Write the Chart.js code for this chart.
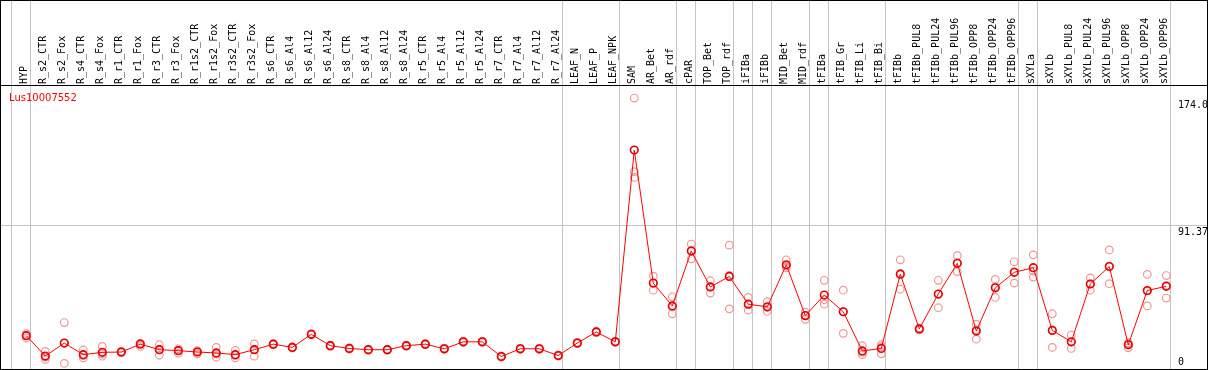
<!DOCTYPE html>
<html>
<head>
<meta charset="utf-8">
<script src="https://cdn.jsdelivr.net/npm/chart.js@4.4.1/dist/chart.umd.min.js"></script>
<style>
  body { margin: 0; background: #fff; }
  canvas { display: block; }
</style>
</head>
<body>
<canvas id="expr" width="1209" height="370"></canvas>
<script>
var geneName = "Lus10007552";

var samples = ["HYP", "R_s2_CTR", "R_s2_Fox", "R_s4_CTR", "R_s4_Fox", "R_r1_CTR", "R_r1_Fox",
  "R_r3_CTR", "R_r3_Fox", "R_r1s2_CTR", "R_r1s2_Fox", "R_r3s2_CTR", "R_r3s2_Fox",
  "R_s6_CTR", "R_s6_Al4", "R_s6_Al12", "R_s6_Al24", "R_s8_CTR", "R_s8_Al4", "R_s8_Al12", "R_s8_Al24",
  "R_r5_CTR", "R_r5_Al4", "R_r5_Al12", "R_r5_Al24", "R_r7_CTR", "R_r7_Al4", "R_r7_Al12", "R_r7_Al24",
  "LEAF_N", "LEAF_P", "LEAF_NPK", "SAM", "AR_Bet", "AR_rdf", "cPAR", "TOP_Bet", "TOP_rdf",
  "iFIBa", "iFIBb", "MID_Bet", "MID_rdf", "tFIBa", "tFIB_Gr", "tFIB_Li", "tFIB_Bi",
  "tFIBb", "tFIBb_PUL8", "tFIBb_PUL24", "tFIBb_PUL96", "tFIBb_OPP8", "tFIBb_OPP24", "tFIBb_OPP96",
  "sXYLa", "sXYLb", "sXYLb_PUL8", "sXYLb_PUL24", "sXYLb_PUL96", "sXYLb_OPP8", "sXYLb_OPP24", "sXYLb_OPP96"];

// mean expression per sample
var means = [19.9, 6.7, 15.1, 7.6, 9.1, 9.3, 14.4, 10.8, 10.2, 9.3, 8.7, 7.6, 10.8,
  14.4, 12.3, 20.8, 13.4, 11.6, 10.8, 10.8, 13.4, 14.4, 11.4, 15.9, 15.9, 6.4, 11.4, 11.4, 7.0,
  15.1, 22.3, 15.9, 140.3, 54.0, 39.2, 74.8, 51.5, 58.3, 40.3, 38.6, 65.9, 32.9,
  46.2, 35.4, 10.0, 11.6, 59.8, 24.3, 46.9, 66.8, 22.9, 50.9, 61.0,
  64.0, 23.3, 15.9, 53.4, 64.7, 14.0, 49.2, 51.9];

// replicates
var rep1 = [21.2, 9.7, 28.4, 10.6, 12.9, 9.8, 15.1, 14.0, 11.4, 10.2, 12.3, 10.4, 14.6,
  14.8, 12.7, 21.2, 13.8, 12.0, 11.2, 11.2, 13.8, 14.8, 11.8, 16.3, 16.3, 6.8, 11.8, 11.8, 7.4,
  15.5, 22.7, 16.3, 174.0, 58.5, 45.1, 79.3, 55.5, 78.6, 44.7, 42.0, 69.1, 35.2,
  55.8, 49.4, 13.4, 14.0, 69.1, 25.0, 55.8, 71.8, 27.3, 56.4, 67.8,
  72.3, 34.1, 20.3, 57.4, 75.5, 15.3, 59.6, 58.9];
var rep2 = [18.4, 4.5, 1.9, 5.5, 6.6, 8.8, 12.9, 7.2, 8.5, 8.1, 5.9, 5.5, 6.6,
  14.0, 11.9, 20.4, 13.0, 11.2, 10.4, 10.4, 13.0, 14.0, 11.0, 15.5, 15.5, 6.0, 11.0, 11.0, 6.6,
  14.7, 21.9, 15.5, 126.3, 49.4, 34.1, 69.7, 47.5, 37.3, 36.4, 35.6, 63.8, 30.5,
  40.3, 21.4, 7.6, 8.1, 50.0, 23.6, 38.0, 61.5, 17.6, 44.7, 54.0,
  57.9, 12.3, 11.6, 49.4, 53.6, 12.0, 39.2, 44.3];
var rep3 = [20.1, 6.0, 15.0, 7.0, 8.0, 9.3, 14.8, 11.0, 10.5, 9.5, 8.0, 7.0, 11.0,
  14.4, 12.3, 20.8, 13.4, 11.6, 10.8, 10.8, 13.4, 14.4, 11.4, 15.9, 15.9, 6.4, 11.4, 11.4, 7.0,
  15.1, 22.3, 15.9, 122.5, 54.0, 38.5, 75.3, 51.5, 59.0, 40.0, 38.3, 65.0, 33.0,
  43.2, 35.4, 9.1, 12.7, 60.3, 24.3, 46.9, 67.1, 23.8, 51.6, 61.2,
  61.8, 23.5, 15.8, 53.4, 65.0, 14.7, 48.8, 52.5];

// index where each sample group starts (grey separators)
var groupStarts = [0, 1, 29, 32, 35, 36, 38, 39, 40, 42, 43, 46, 53, 54, 61];

var yTicks = [174.0, 91.37, 0];
var yTickLabels = ["174.0", "91.37", "0"];

var meanPoints = means.map(function (v, i) { return { x: i, y: v }; });
var repPoints = [];
for (var i = 0; i < samples.length; i++) {
  repPoints.push({ x: i, y: rep1[i] });
  repPoints.push({ x: i, y: rep2[i] });
  repPoints.push({ x: i, y: rep3[i] });
}

var frame = {
  id: "frame",
  beforeDatasetsDraw: function (chart) {
    var ctx = chart.ctx;
    var xs = chart.scales.x, ys = chart.scales.y;
    ctx.save();
    ctx.strokeStyle = "#c4c4c4";
    ctx.lineWidth = 1;
    ctx.beginPath();
    groupStarts.forEach(function (k) {
      var x = Math.round(xs.getPixelForValue(k - 0.78)) + 0.5;
      ctx.moveTo(x, 0);
      ctx.lineTo(x, 370);
    });
    var gy = Math.round(ys.getPixelForValue(yTicks[1])) + 0.5;
    ctx.moveTo(0, gy);
    ctx.lineTo(1208, gy);
    ctx.stroke();
    ctx.restore();
  },
  afterDraw: function (chart) {
    var ctx = chart.ctx;
    var xs = chart.scales.x, ys = chart.scales.y;
    ctx.save();
    ctx.fillStyle = "#000";
    ctx.font = "10px 'DejaVu Sans Mono'";
    ctx.textAlign = "left";
    ctx.textBaseline = "alphabetic";
    samples.forEach(function (s, i) {
      ctx.save();
      ctx.translate(xs.getPixelForValue(i) + 1, 84);
      ctx.rotate(-Math.PI / 2);
      ctx.fillText(s, 0, 0);
      ctx.restore();
    });

    ctx.textBaseline = "middle";
    yTicks.forEach(function (t, i) {
      var y = Math.min(ys.getPixelForValue(t) + 7, 362);
      ctx.fillText(yTickLabels[i], 1178, y);
    });

    ctx.fillStyle = "red";
    ctx.font = "10px 'DejaVu Sans'";
    ctx.fillText(geneName, 9, 98);

    ctx.strokeStyle = "#000";
    ctx.lineWidth = 1;
    ctx.strokeRect(0.5, 0.5, 1207, 369);
    ctx.beginPath();
    ctx.moveTo(0, 85.5);
    ctx.lineTo(1208, 85.5);
    ctx.stroke();
    ctx.restore();
  }
};

var ctx = document.getElementById("expr").getContext("2d");
var chart = new Chart(ctx, {
  type: "line",
  data: {
    datasets: [
      {
        data: meanPoints,
        borderColor: "red",
        borderWidth: 1,
        pointStyle: "circle",
        pointRadius: 3.8,
        pointBorderWidth: 1.6,
        pointBorderColor: "#e80000",
        pointBackgroundColor: "rgba(255,255,255,0)",
        tension: 0,
        clip: false
      },
      {
        data: repPoints,
        showLine: false,
        pointStyle: "circle",
        pointRadius: 3.8,
        pointBorderWidth: 1.2,
        pointBorderColor: "rgb(240,150,150)",
        pointBackgroundColor: "rgba(255,255,255,0)",
        clip: false
      }
    ]
  },
  options: {
    responsive: false,
    animation: false,
    events: [],
    layout: { padding: { left: 11, right: 39, top: 85, bottom: 0 } },
    plugins: { legend: { display: false }, tooltip: { enabled: false } },
    scales: {
      x: { type: "linear", display: false, min: -0.805, max: 60.195 },
      y: { display: false, min: 1.27, max: 182.45 }
    }
  },
  plugins: [frame]
});
</script>
</body>
</html>
